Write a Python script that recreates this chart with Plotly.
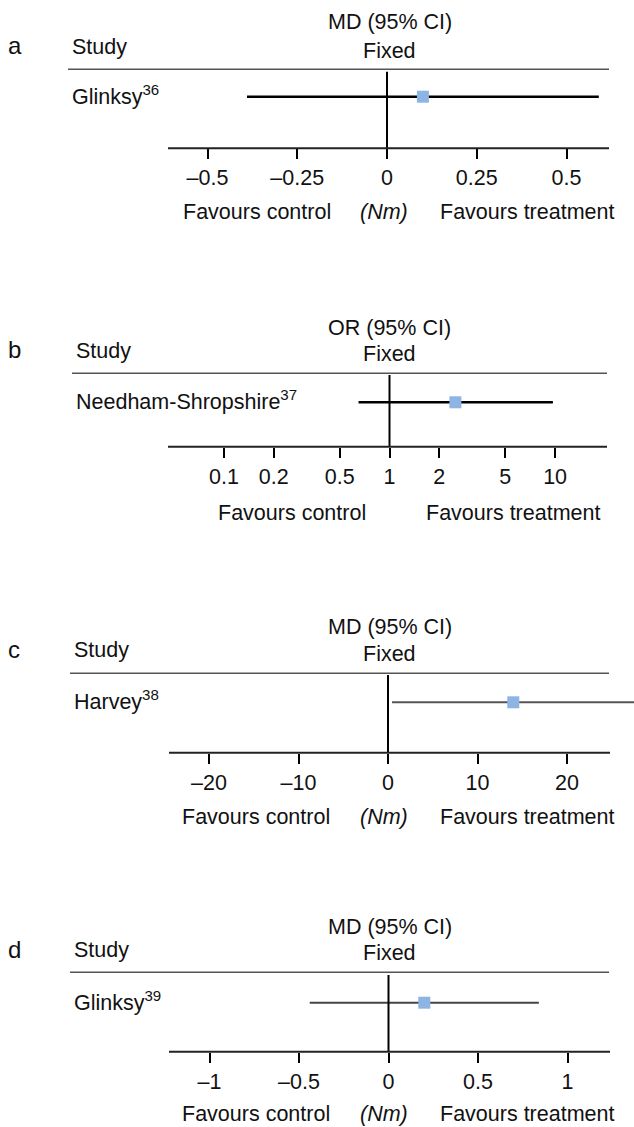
import math
import plotly.graph_objects as go

W, H = 634, 1127

# ---------------- data ----------------
letters = ["a", "b", "c", "d"]
measures = ["MD (95% CI)", "OR (95% CI)", "MD (95% CI)", "MD (95% CI)"]
model_label = "Fixed"
study_header = "Study"
studies = ["Glinksy<sup>36</sup>", "Needham-Shropshire<sup>37</sup>",
           "Harvey<sup>38</sup>", "Glinksy<sup>39</sup>"]
effect = [0.10, 2.5, 14.0, 0.20]
ci_low = [-0.39, 0.65, 0.45, -0.44]
ci_high = [0.59, 9.7, 27.6, 0.84]
null_value = [0, 1, 0, 0]
unit_labels = ["(Nm)", "", "(Nm)", "(Nm)"]
favour_left = "Favours control"
favour_right = "Favours treatment"
tick_vals = [[-0.5, -0.25, 0, 0.25, 0.5],
             [0.1, 0.2, 0.5, 1, 2, 5, 10],
             [-20, -10, 0, 10, 20],
             [-1, -0.5, 0, 0.5, 1]]
tick_text = [["\u20130.5", "\u20130.25", "0", "0.25", "0.5"],
             ["0.1", "0.2", "0.5", "1", "2", "5", "10"],
             ["\u201320", "\u201310", "0", "10", "20"],
             ["\u20131", "\u20130.5", "0", "0.5", "1"]]
log_axis = [False, True, False, False]

# ---------------- layout geometry (pixels) ----------------
geom = [
    dict(top=71.7, axis=148.3, row=96.7, title=21.7, fixed=50.7, study=46.7,
         header=69.3, hx0=68, hx1=609, fav=211.7, null_px=387.0, unit_px=359.0,
         ax0=168, ax1=609, study_x=72, favL=256.5, favR=527, unit_x=384),
    dict(top=375.0, axis=446.7, row=402.3, title=327.7, fixed=354.0, study=351.0,
         header=373.3, hx0=72, hx1=607, fav=513.3, null_px=389.5, unit_px=165.6,
         ax0=168, ax1=607, study_x=76, favL=291.5, favR=512.5, unit_x=384),
    dict(top=675.0, axis=752.7, row=702.3, title=626.7, fixed=654.3, study=650.0,
         header=673.3, hx0=70, hx1=609, fav=816.7, null_px=388.0, unit_px=8.95,
         ax0=169, ax1=610, study_x=74, favL=256, favR=527, unit_x=384),
    dict(top=975.0, axis=1051.7, row=1002.7, title=926.7, fixed=953.3, study=950.0,
         header=972.3, hx0=70, hx1=609, fav=1114.0, null_px=388.5, unit_px=179.0,
         ax0=169, ax1=610, study_x=74, favL=256, favR=527, unit_x=384),
]

FONT = "Arial, Liberation Sans, sans-serif"
FS = 21.5
LETTER_FS = 24
SQUARE_COLOR = "#8DB4E2"
ci_colors = ["#000000", "#000000", "#555555", "#444444"]
ci_widths = [2.5, 2.5, 2.0, 2.0]


def px(x):
    return x / W


def py(y):
    return 1 - y / H


fig = go.Figure()
annotations = []
shapes = []

for i in range(4):
    g = geom[i]
    ax = "" if i == 0 else str(i + 1)
    xname, yname = "x" + ax, "y" + ax
    # x range so that tick positions land where the reference puts them
    if log_axis[i]:
        base = math.log10(null_value[i])
    else:
        base = null_value[i]
    x_lo = base + (g["ax0"] - g["null_px"]) / g["unit_px"]
    x_hi = base + (W - g["null_px"]) / g["unit_px"]
    row_val = (g["axis"] - g["row"]) / (g["axis"] - g["top"])

    fig.add_trace(go.Scatter(
        x=[ci_low[i], ci_high[i]], y=[row_val, row_val], mode="lines",
        line=dict(color=ci_colors[i], width=ci_widths[i]),
        xaxis=xname, yaxis=yname, hoverinfo="skip", showlegend=False))
    fig.add_trace(go.Scatter(
        x=[effect[i]], y=[row_val], mode="markers",
        marker=dict(symbol="square", size=12, color=SQUARE_COLOR,
                    line=dict(width=0)),
        xaxis=xname, yaxis=yname, showlegend=False, cliponaxis=False))

    fig.update_layout(**{
        ("xaxis" + ax): dict(
            domain=[px(g["ax0"]), 1.0], range=[x_lo, x_hi],
            type="log" if log_axis[i] else "linear",
            anchor=yname, showgrid=False, zeroline=False, showline=False,
            tickmode="array", tickvals=tick_vals[i], ticktext=tick_text[i],
            ticks="outside", ticklen=10, tickwidth=2, tickcolor="#000000",
            tickfont=dict(family=FONT, size=FS, color="#111111"),
            fixedrange=True),
        ("yaxis" + ax): dict(
            domain=[py(g["axis"]), py(g["top"])], range=[0, 1],
            anchor=xname, visible=False, fixedrange=True),
    })

    # null-effect vertical line
    shapes.append(dict(type="line", xref=xname, yref=yname + " domain",
                       x0=null_value[i], x1=null_value[i], y0=0, y1=1,
                       line=dict(color="#000000", width=2)))
    # axis baseline
    shapes.append(dict(type="line", xref="paper", yref="paper",
                       x0=px(g["ax0"]), x1=px(g["ax1"]),
                       y0=py(g["axis"]), y1=py(g["axis"]),
                       line=dict(color="#222222", width=2)))
    # header rule
    shapes.append(dict(type="line", xref="paper", yref="paper",
                       x0=px(g["hx0"]), x1=px(g["hx1"]),
                       y0=py(g["header"]), y1=py(g["header"]),
                       line=dict(color="#555555", width=1.5)))

    def ann(text, x, y, xanchor="center", size=FS):
        annotations.append(dict(text=text, x=px(x), y=py(y), xref="paper",
                                yref="paper", xanchor=xanchor, yanchor="middle",
                                showarrow=False,
                                font=dict(family=FONT, size=size, color="#111111")))

    ann(letters[i], 6, g["study"] - 1, "left", LETTER_FS)
    ann(study_header, g["study_x"] - 2, g["study"], "left")
    ann(measures[i], 390, g["title"])
    ann(model_label, 390, g["fixed"])
    ann(studies[i], g["study_x"] - 2, g["row"] - 2, "left")
    ann(favour_left, g["favL"], g["fav"])
    ann(favour_right, g["favR"], g["fav"])
    if unit_labels[i]:
        ann("<i>" + unit_labels[i] + "</i>", g["unit_x"], g["fav"])

fig.update_layout(width=W, height=H, margin=dict(l=0, r=0, t=0, b=0),
                  paper_bgcolor="white", plot_bgcolor="white",
                  showlegend=False, annotations=annotations, shapes=shapes)

fig.write_html("out.html")
